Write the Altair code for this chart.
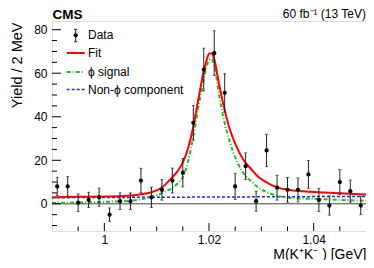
import altair as alt
import pandas as pd

FONT = "Liberation Sans"

# ---- data points (bin centres, yields, errors) ----
mass = [0.991, 0.993, 0.995, 0.997, 0.999, 1.001, 1.003, 1.005, 1.007, 1.009,
        1.011, 1.013, 1.015, 1.017, 1.019, 1.021, 1.023, 1.025, 1.027, 1.029,
        1.031, 1.033, 1.035, 1.037, 1.039, 1.041, 1.043, 1.045, 1.047, 1.049]
yields = [8.0, 8.0, 0.5, 1.8, 3.0, -5.0, 1.2, 1.2, 10.7, 3.0,
          6.4, 10.7, 14.3, 37.2, 61.7, 69.2, 51.0, 8.0, 17.3, 1.2,
          24.5, 7.4, 6.4, 6.4, 13.5, 1.8, -0.8, 10.0, 5.8, -0.8]
errors = [4.2, 4.5, 4.0, 3.5, 4.2, 3.1, 3.8, 3.8, 5.6, 4.7,
          4.7, 5.7, 6.5, 8.0, 9.8, 10.3, 8.8, 6.0, 6.1, 4.6,
          7.4, 5.7, 5.7, 5.5, 6.4, 5.3, 4.4, 5.7, 5.1, 4.2]

# ---- curves ----
fit_x = [0.990, 0.995, 1.000, 1.005, 1.009, 1.011, 1.0125, 1.014, 1.015, 1.016,
         1.017, 1.018, 1.019, 1.0195, 1.020, 1.0205, 1.021, 1.022, 1.023, 1.024,
         1.025, 1.0265, 1.028, 1.0295, 1.0315, 1.0335, 1.035, 1.038, 1.042, 1.046, 1.050]
fit_y = [3.0, 3.2, 3.3, 3.8, 5.3, 7.5, 11.0, 15.0, 19.0, 25.5,
         35.5, 48.5, 61.0, 65.5, 69.0, 69.2, 66.5, 54.0, 43.0, 34.0,
         27.6, 20.5, 16.1, 12.2, 9.2, 7.2, 6.5, 5.8, 5.2, 4.7, 4.3]

sig_x = [0.990, 0.995, 1.000, 1.005, 1.008, 1.010, 1.012, 1.013, 1.014, 1.015,
         1.016, 1.017, 1.018, 1.019, 1.0195, 1.020, 1.0205, 1.021, 1.022, 1.023,
         1.024, 1.025, 1.0265, 1.028, 1.0295, 1.0315, 1.0335, 1.035, 1.038, 1.042, 1.046, 1.050]
sig_y = [0.4, 0.6, 0.9, 1.4, 2.6, 4.0, 6.0, 7.3, 9.3, 12.3,
         19.5, 31.0, 45.0, 57.0, 62.5, 66.0, 66.5, 63.5, 49.0, 37.0,
         28.3, 21.4, 14.5, 10.5, 7.4, 4.9, 3.4, 2.8, 2.4, 2.1, 1.7, 1.4]

bkg_x = [0.990, 1.050]
bkg_y = [2.8, 3.4]

# ---- axis ticks / labels ----
x_labels = [1.0, 1.02, 1.04]
x_minor = [0.995, 1.005, 1.010, 1.015, 1.025, 1.030, 1.035, 1.045]
y_labels = [0, 20, 40, 60, 80]
y_minor = [-10, -5, 5, 10, 15, 25, 30, 35, 45, 50, 55, 65, 70, 75]

legend_labels = ["Data", "Fit", "ϕ signal", "Non-ϕ component"]
cms_label = "CMS"
lumi_label = "60 fb⁻¹ (13 TeV)"
x_title = "M(K⁺K⁻ ) [GeV]"
y_title = "Yield / 2 MeV"

W, H = 314, 210

xscale = alt.Scale(domain=[0.99, 1.05], nice=False, zero=False)
yscale = alt.Scale(domain=[-12.5, 84], nice=False, zero=False)

xaxis = alt.Axis(values=x_labels, format=".2~f", tickSize=0, domain=False, grid=False,
                 labelFont=FONT, labelFontSize=12, labelColor="black", labelPadding=3,
                 labelFlush=False, title=x_title, titleFont=FONT, titleFontSize=14,
                 titleFontWeight="normal", titleColor="black", titleAnchor="end",
                 titleAlign="right", titleX=W, titleY=27, titleBaseline="alphabetic")
yaxis = alt.Axis(values=y_labels, format="d", tickSize=0, domain=False, grid=False,
                 labelFont=FONT, labelFontSize=12, labelColor="black", labelPadding=5,
                 title=y_title, titleFont=FONT, titleFontSize=14.5, titleFontWeight="normal",
                 titleColor="black", titleAngle=270, titleAnchor="end", titleAlign="right",
                 titleX=-35, titleY=1, titleBaseline="middle")


def X(field):
    return alt.X(field, type="quantitative", scale=xscale, axis=xaxis)


def Y(field):
    return alt.Y(field, type="quantitative", scale=yscale, axis=yaxis)


pts = pd.DataFrame({"m": mass, "y": yields, "e": errors})
pts["lo"] = pts["y"] - pts["e"]
pts["hi"] = pts["y"] + pts["e"]

fit_df = pd.DataFrame({"m": fit_x, "y": fit_y})
sig_df = pd.DataFrame({"m": sig_x, "y": sig_y})
bkg_df = pd.DataFrame({"m": bkg_x, "y": bkg_y})

RED = "#ff0000"
GREEN = "#22bb22"
BLUE = "#2222ff"

zero = alt.Chart(pd.DataFrame({"m": [0.99], "y": [0]})).mark_rule(
    color="#444", strokeWidth=1).encode(y=Y("y"))

bkg = alt.Chart(bkg_df).mark_line(color=BLUE, strokeWidth=1.5, strokeDash=[3, 2]).encode(
    x=X("m"), y=Y("y"))
sig = alt.Chart(sig_df).mark_line(color=GREEN, strokeWidth=2, strokeDash=[4, 2, 1, 2],
                                  interpolate="monotone").encode(x=X("m"), y=Y("y"))
fit = alt.Chart(fit_df).mark_line(color=RED, strokeWidth=2, interpolate="monotone").encode(
    x=X("m"), y=Y("y"))

ebar = alt.Chart(pts).mark_rule(color="#222", strokeWidth=1).encode(
    x=X("m"), y=Y("lo"), y2="hi")
cap_lo = alt.Chart(pts).mark_tick(color="#222", orient="horizontal", size=3, thickness=1).encode(
    x=X("m"), y=Y("lo"))
cap_hi = alt.Chart(pts).mark_tick(color="#222", orient="horizontal", size=3, thickness=1).encode(
    x=X("m"), y=Y("hi"))
dots = alt.Chart(pts).mark_circle(color="black", size=18, opacity=1).encode(
    x=X("m"), y=Y("y"))

# inside ticks
xt_major = alt.Chart(pd.DataFrame({"m": x_labels})).mark_rule(color="black").encode(
    x=X("m"), y=alt.value(H), y2=alt.value(H - 8))
xt_minor = alt.Chart(pd.DataFrame({"m": x_minor})).mark_rule(color="black").encode(
    x=X("m"), y=alt.value(H), y2=alt.value(H - 4.5))
yt_major = alt.Chart(pd.DataFrame({"y": y_labels})).mark_rule(color="black").encode(
    y=Y("y"), x=alt.value(0), x2=alt.value(9))
yt_minor = alt.Chart(pd.DataFrame({"y": y_minor})).mark_rule(color="black").encode(
    y=Y("y"), x=alt.value(0), x2=alt.value(5))

# legend (inside top-left)
one = pd.DataFrame({"a": [0]})
lg_x0, lg_x1, lg_tx = 14.7, 32.7, 36
lg_y = [14.3, 32.0, 51.0, 68.6]
leg = [
    alt.Chart(one).mark_rule(color="#222", strokeWidth=1).encode(
        x=alt.value(23.7), y=alt.value(lg_y[0] - 6), y2=alt.value(lg_y[0] + 6.5)),
    alt.Chart(one).mark_rule(color="#222", strokeWidth=1).encode(
        x=alt.value(22.2), x2=alt.value(25.2), y=alt.value(lg_y[0] - 6)),
    alt.Chart(one).mark_rule(color="#222", strokeWidth=1).encode(
        x=alt.value(22.2), x2=alt.value(25.2), y=alt.value(lg_y[0] + 6.5)),
    alt.Chart(one).mark_circle(color="black", size=18, opacity=1).encode(
        x=alt.value(23.7), y=alt.value(lg_y[0])),
    alt.Chart(one).mark_rule(color=RED, strokeWidth=2).encode(
        x=alt.value(lg_x0), x2=alt.value(lg_x1), y=alt.value(lg_y[1])),
    alt.Chart(one).mark_rule(color=GREEN, strokeWidth=2, strokeDash=[4, 2, 1, 2]).encode(
        x=alt.value(lg_x0), x2=alt.value(lg_x1), y=alt.value(lg_y[2])),
    alt.Chart(one).mark_rule(color=BLUE, strokeWidth=1.5, strokeDash=[3, 2]).encode(
        x=alt.value(lg_x0), x2=alt.value(lg_x1), y=alt.value(lg_y[3])),
]
for lab, yy in zip(legend_labels, lg_y):
    leg.append(alt.Chart(pd.DataFrame({"t": [lab]})).mark_text(
        font=FONT, fontSize=12, color="black", align="left", baseline="middle").encode(
        text="t:N", x=alt.value(lg_tx), y=alt.value(yy)))

cms = alt.Chart(pd.DataFrame({"t": [cms_label]})).mark_text(
    font=FONT, fontSize=13.5, fontWeight="bold", color="black", align="left",
    baseline="alphabetic").encode(text="t:N", x=alt.value(0.5), y=alt.value(-1.8))
lumi = alt.Chart(pd.DataFrame({"t": [lumi_label]})).mark_text(
    font=FONT, fontSize=12, color="black", align="right",
    baseline="alphabetic").encode(text="t:N", x=alt.value(W), y=alt.value(-2.8))

chart = alt.layer(
    zero, bkg, sig, fit, ebar, cap_lo, cap_hi, dots,
    xt_major, xt_minor, yt_major, yt_minor, *leg, cms, lumi
).properties(
    width=W, height=H,
    autosize=alt.AutoSizeParams(type="none"),
    padding={"left": 44, "top": 13, "right": 0, "bottom": 29},
).configure_view(stroke="black", strokeWidth=1).configure(background="white")

chart.save("out.html", embed_options={"renderer": "svg", "actions": False})
